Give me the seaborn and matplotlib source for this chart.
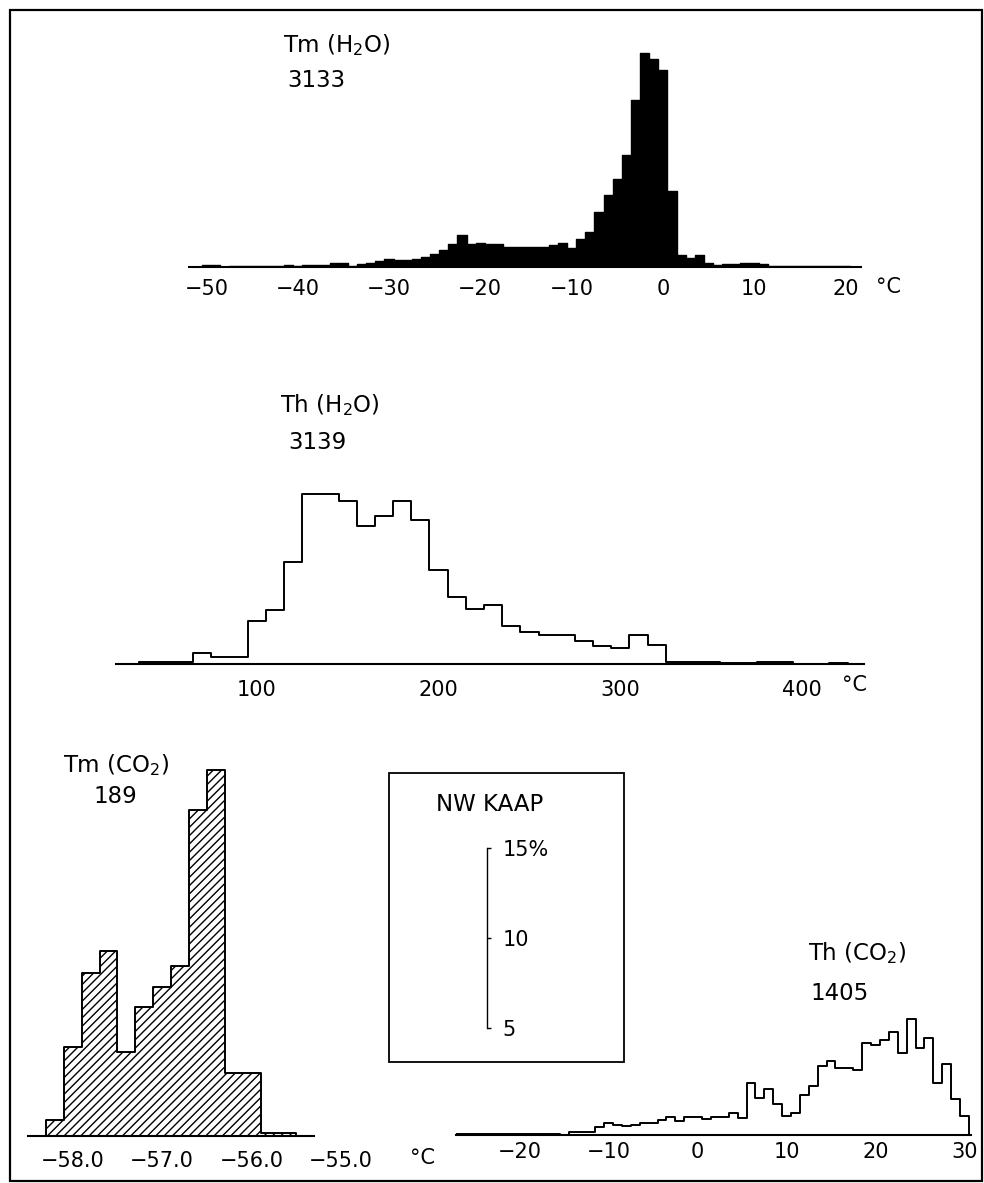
import numpy as np
import matplotlib
matplotlib.use("Agg")
import matplotlib.pyplot as plt
import matplotlib.patches as mpatches
import seaborn as sns

# ---------------- data: percent of inclusions per bin ----------------
# Tm (H2O), n = 3133, 1 degC bins centred on the integers -50 ... 20
tm_h2o_centers = np.arange(-50, 21)
tm_h2o_pct = [0.10, 0.10, 0.00, 0.08, 0.08, 0.08, 0.08, 0.08, 0.08, 0.10, 0.08, 0.10, 0.10,
              0.12, 0.22, 0.22, 0.06, 0.16, 0.22, 0.33, 0.44, 0.39, 0.39, 0.44, 0.55, 0.72,
              0.94, 1.27, 1.77, 1.27,
              1.33, 1.27, 1.27, 1.10, 1.10, 1.10, 1.10, 1.10, 1.22, 1.33, 1.05,
              1.55, 1.93, 3.04, 3.98, 4.86, 6.19, 9.23, 11.82, 11.49, 10.88,
              4.20, 0.66, 0.50, 0.66, 0.22, 0.11, 0.17, 0.17, 0.22, 0.22,
              0.17, 0.06, 0.06, 0.06, 0.06, 0.06, 0.06, 0.06, 0.06, 0.06]

# Th (H2O), n = 3139, 10 degC bins centred on 40 ... 420
th_h2o_centers = np.arange(40, 421, 10)
th_h2o_pct = [0.11, 0.11, 0.11, 0.61, 0.39, 0.39,
              2.38, 2.98, 5.64, 9.39, 9.39, 9.01, 7.62, 8.18, 9.01, 7.96,
              5.19, 3.70, 3.04, 3.26, 2.10, 1.77, 1.60, 1.60, 1.27, 0.99,
              0.88, 1.60, 1.05, 0.11, 0.11, 0.11, 0.08, 0.08, 0.11, 0.11,
              0.00, 0.00, 0.06]

# Tm (CO2), n = 189, 0.2 degC bins
tm_co2_centers = [-58.2, -58.0, -57.8, -57.6, -57.4, -57.2, -57.0,
                  -56.8, -56.6, -56.4, -56.2, -56.0, -55.8, -55.6]
tm_co2_pct = [0.88, 4.92, 9.01, 10.22, 4.64, 7.13, 8.23,
              9.39, 18.01, 20.22, 3.48, 3.48, 0.17, 0.17]

# Th (CO2), n = 1405, 1 degC bins centred on -27 ... 30
th_co2_centers = np.arange(-27, 31)
th_co2_pct = [0.06, 0.06, 0.06, 0.06, 0.06, 0.06, 0.06, 0.06, 0.06, 0.06, 0.06, 0.06, 0.00,
              0.17, 0.17, 0.17, 0.44, 0.66, 0.55, 0.50, 0.55, 0.66, 0.66, 0.83, 0.99, 0.77,
              0.99, 0.99, 0.88, 0.99, 0.99, 1.22, 0.94, 2.87, 2.04, 2.54, 1.71, 1.05,
              1.22, 2.21, 2.71, 3.81, 4.09, 3.70, 3.70, 3.59, 5.08, 4.97,
              5.25, 5.69, 4.53, 6.41, 4.81, 5.36, 2.87, 3.92, 1.99, 1.05]

tm_h2o_ticks = [-50, -40, -30, -20, -10, 0, 10, 20]
th_h2o_ticks = [100, 200, 300, 400]
tm_co2_ticks = [-58.0, -57.0, -56.0, -55.0]
th_co2_ticks = [-20, -10, 0, 10, 20, 30]
scale_ticks = [5, 10, 15]
scale_labels = ["5", "10", "15%"]

# ---------------- styling ----------------
sns.set_style("white")
plt.rcParams["font.family"] = ["DejaVu Sans"]
plt.rcParams["hatch.linewidth"] = 1.0
plt.rcParams["hatch.color"] = "black"

W, H = 984, 1183
PX_PER_PCT = 18.1
fig = plt.figure(figsize=(W / 100, H / 100), dpi=100)


def axes_px(left, top, right, bottom):
    return fig.add_axes([left / W, 1 - bottom / H, (right - left) / W, (bottom - top) / H])


def edges_of(centers, width):
    c = np.asarray(centers, dtype=float)
    return [float(v) for v in np.round(np.r_[c - width / 2, c[-1] + width / 2], 3)]


def style_axis(ax, ticks, labels, ticklen, pad, lw=1.5):
    for s in ["left", "right", "top"]:
        ax.spines[s].set_visible(False)
    ax.spines["bottom"].set_linewidth(lw)
    ax.spines["bottom"].set_color("black")
    ax.set_yticks([])
    ax.set_xticks(ticks)
    ax.set_xticklabels(labels)
    ax.tick_params(axis="x", direction="out", length=ticklen, width=1.0, pad=pad,
                   labelsize=15, colors="black")
    ax.set_xlabel("")
    ax.set_ylabel("")
    ax.patch.set_visible(False)


def fmt(vals, dec=0):
    return [(f"{v:.{dec}f}").replace("-", "\u2212") for v in vals]


def ftext(x, y, s, size=16.5, **kw):
    fig.text(x / W, 1 - y / H, s, fontsize=size, color="black", **kw)


# ---- panel 1: Tm(H2O), solid black ----
ax1 = axes_px(189, 267 - 12.5 * PX_PER_PCT, 861, 267)
sns.histplot(x=list(tm_h2o_centers), weights=tm_h2o_pct, bins=edges_of(tm_h2o_centers, 1),
             element="step", fill=True, color="black", alpha=1, linewidth=1.0, ax=ax1)
ax1.set_xlim(-51.9, 21.7)
ax1.set_ylim(0, 12.5)
style_axis(ax1, tm_h2o_ticks, fmt(tm_h2o_ticks), 2.5, 6)

# ---- panel 2: Th(H2O), open step outline ----
ax2 = axes_px(116, 664 - 10.5 * PX_PER_PCT, 864, 664)
sns.histplot(x=list(th_h2o_centers), weights=th_h2o_pct, bins=edges_of(th_h2o_centers, 10),
             element="step", fill=True, color="black", alpha=1, ax=ax2)
for c in ax2.collections:
    c.set_facecolor("none")
    c.set_edgecolor("black")
    c.set_linewidth(1.4)
ax2.set_xlim(22.6, 434)
ax2.set_ylim(0, 10.5)
style_axis(ax2, th_h2o_ticks, fmt(th_h2o_ticks), 2.5, 9)

# ---- panel 3: Tm(CO2), hatched ----
ax3 = axes_px(28, 1136 - 21 * PX_PER_PCT, 28 + 3.5 * 89.5, 1136)
sns.histplot(x=tm_co2_centers, weights=tm_co2_pct, bins=edges_of(tm_co2_centers, 0.2),
             element="step", fill=True, color="black", alpha=1, ax=ax3)
for c in ax3.collections:
    c.set_facecolor("white")
    c.set_edgecolor("black")
    c.set_hatch("////")
    c.set_linewidth(1.4)
ax3.set_xlim(-58.5, -55.0)
ax3.set_ylim(0, 21)
style_axis(ax3, tm_co2_ticks, fmt(tm_co2_ticks, 1), 4, 6.5)
ax3.spines["bottom"].set_bounds(-58.5, -55.3)
ax3.xaxis.get_major_ticks()[-1].tick1line.set_visible(False)

# ---- panel 4: Th(CO2), open step outline ----
ax4 = axes_px(455.6, 1135 - 7 * PX_PER_PCT, 970.7, 1135)
sns.histplot(x=list(th_co2_centers), weights=th_co2_pct, bins=edges_of(th_co2_centers, 1),
             element="step", fill=True, color="black", alpha=1, ax=ax4)
for c in ax4.collections:
    c.set_facecolor("none")
    c.set_edgecolor("black")
    c.set_linewidth(1.4)
ax4.set_xlim(-27.2, 30.7)
ax4.set_ylim(0, 7)
style_axis(ax4, th_co2_ticks, fmt(th_co2_ticks), 3, 2)

# ---- scale bar (percent) inside the legend box ----
sb = axes_px(470, 848, 487.3, 1028)
sb.set_ylim(5, 15)
for s in ["left", "top", "bottom"]:
    sb.spines[s].set_visible(False)
sb.spines["right"].set_linewidth(1.0)
sb.spines["right"].set_color("black")
sb.yaxis.tick_right()
sb.set_yticks(scale_ticks)
sb.set_yticklabels(scale_labels)
sb.set_xticks([])
sb.tick_params(axis="y", direction="out", length=3, width=1.0, pad=8, labelsize=15,
               colors="black")
sb.patch.set_visible(False)

# ---- frames ----
fig.patches.append(mpatches.Rectangle((10 / W, 1 - 1181 / H), 972 / W, 1171 / H,
                                      transform=fig.transFigure, fill=False,
                                      edgecolor="black", linewidth=1.6))
fig.patches.append(mpatches.Rectangle((389 / W, 1 - 1062 / H), 235 / W, 289 / H,
                                      transform=fig.transFigure, fill=False,
                                      edgecolor="black", linewidth=1.3))

# ---- texts ----
ftext(283, 52, r"Tm (H$_2$O)", va="baseline")
ftext(287, 87, "3133", va="baseline")
ftext(280, 412, r"Th (H$_2$O)", va="baseline")
ftext(288, 449, "3139", va="baseline")
ftext(63, 772, r"Tm (CO$_2$)", va="baseline")
ftext(93, 803, "189", va="baseline")
ftext(808, 960, r"Th (CO$_2$)", va="baseline")
ftext(810, 1000, "1405", va="baseline")
ftext(436, 811, "NW KAAP", va="baseline")
ftext(876, 287, "°C", size=15, va="center")
ftext(842, 685, "°C", size=15, va="center")
ftext(410, 1158, "°C", size=15, va="center")

fig.savefig("out.png", dpi=100)
